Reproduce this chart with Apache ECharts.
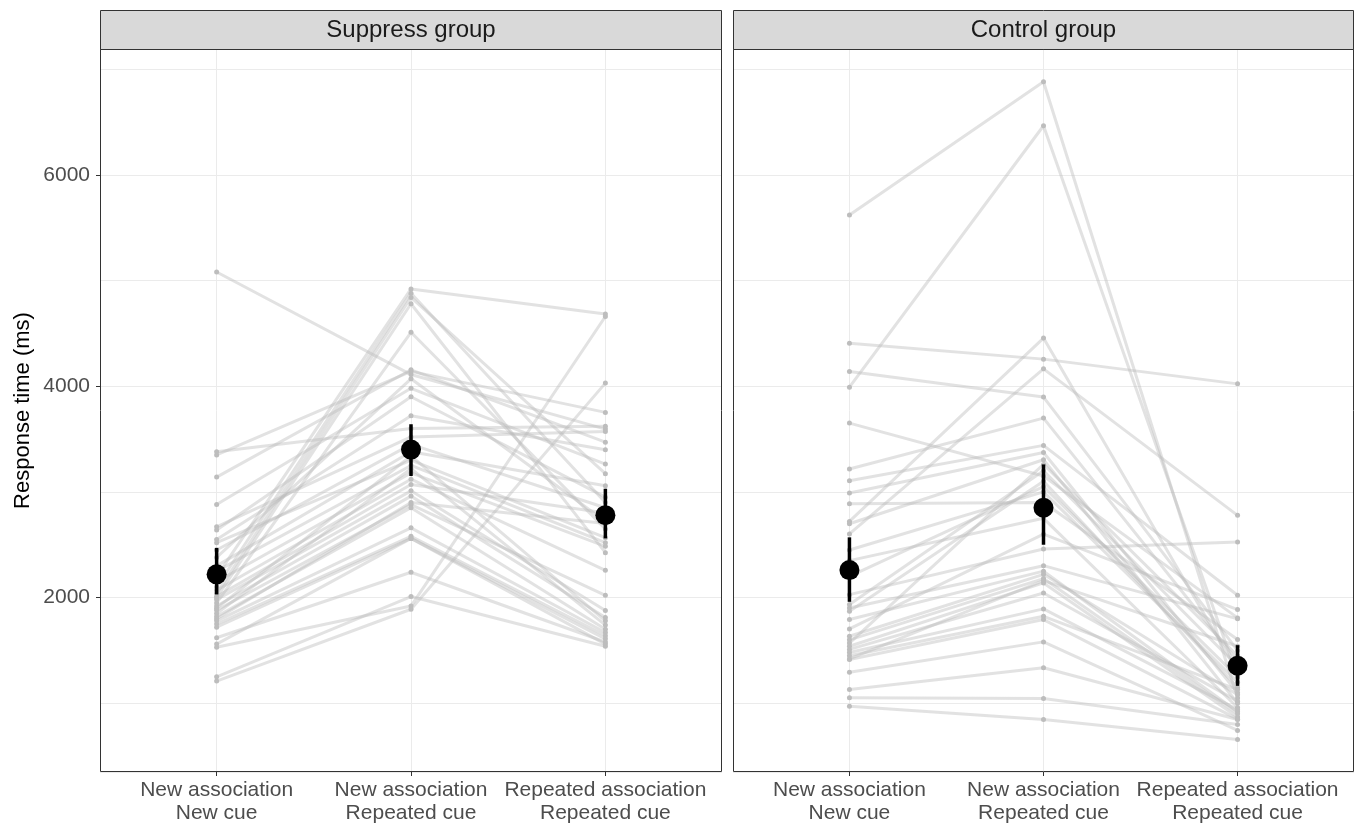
<!DOCTYPE html>
<html><head><meta charset="utf-8">
<script src="https://cdn.jsdelivr.net/npm/echarts@6/dist/echarts.min.js"></script>
<style>html,body{margin:0;padding:0;background:#fff}#c{width:1361px;height:825px}</style>
</head><body><div id="c"></div>
<script>
// ---- Data ----
const categories = ['New association\nNew cue', 'New association\nRepeated cue', 'Repeated association\nRepeated cue'];
const panelTitles = ['Suppress group', 'Control group'];
const yTickLabels = [2000, 4000, 6000];

// Suppress group: one entry per participant
const suppressNewNew = [5080,3380,3350,3140,2880,2670,2640,2550,2520,2450,2380,2300,2250,2200,2150,2100,2070,2040,2010,2000,1980,1950,1920,1900,1880,1850,1820,1800,1780,1750,1720,1620,1560,1530,1250,1210];
const suppressNewRep = [4110,3600,4140,4155,3980,3520,3900,3720,3300,3450,4070,3380,3250,4920,3180,4880,3120,4840,3070,4780,3010,4510,2960,3340,2880,3220,2850,2900,2660,2580,2560,2240,2560,1920,2010,1890];
const suppressRepRep = [3594,3620,3752,3470,3263,3572,2950,3399,2567,2850,2720,3059,2520,4684,2485,2900,2258,3172,2800,2425,1877,2650,1811,1780,2022,1740,1700,2700,1670,1640,1610,1580,1560,4659,1540,4029];

// Control group: one entry per participant
const controlNewNew = [5620,4407,4139,3991,3651,3216,3106,2989,2888,2721,2699,2602,2450,2350,2028,1934,1902,1871,1792,1704,1634,1600,1570,1540,1510,1480,1450,1414,1294,1130,1052,973,1420,2200];
const controlNewRep = [6880,4256,3897,6464,3150,3698,3440,3373,2900,4455,3304,4164,3000,2750,2460,3200,2302,3100,2250,2600,2220,2180,3260,2139,2044,1893,1823,1792,1581,1336,1045,847,2160,3050];
const controlRepRep = [1050,4022,1500,1250,1808,1400,2022,1100,1603,1300,1000,2778,1200,960,2526,1350,1799,1150,920,1887,1080,900,1450,870,1020,940,1130,850,743,847,800,658,1540,1250];

// Group means and interval bounds
const suppressMean = [2220, 3400, 2780];
const suppressLow  = [2030, 3150, 2560];
const suppressHigh = [2470, 3640, 3030];
const controlMean  = [2260, 2850, 1355];
const controlLow   = [1960, 2500, 1165];
const controlHigh  = [2570, 3260, 1550];

// ---- Build chart ----
const FONT = '"Liberation Sans", Arial, Helvetica, sans-serif';
const YMIN = 350, YMAX = 7190;
const grids = [
  {left: 100, top: 49, width: 622, height: 723},
  {left: 733, top: 49, width: 621, height: 723}
];
const groups = [
  {cols: [suppressNewNew, suppressNewRep, suppressRepRep], mean: suppressMean, low: suppressLow, high: suppressHigh},
  {cols: [controlNewNew, controlNewRep, controlRepRep], mean: controlMean, low: controlLow, high: controlHigh}
];

const xAxes = grids.map((g, i) => ({
  type: 'value', gridIndex: i, min: 0.4, max: 3.6, minInterval: 1, maxInterval: 1,
  axisLine: {show: false},
  axisTick: {show: true, length: 4, customValues: [1, 2, 3], lineStyle: {color: '#333333', width: 1}},
  axisLabel: {show: true, customValues: [1, 2, 3], margin: 7, fontSize: 21, lineHeight: 23,
    color: '#4D4D4D', fontFamily: FONT,
    formatter: v => categories[Math.round(v) - 1] || ''},
  splitLine: {show: true, lineStyle: {color: '#EBEBEB', width: 1}}
}));

const yAxes = [];
grids.forEach((g, i) => {
  yAxes.push({
    type: 'value', gridIndex: i, min: YMIN, max: YMAX, minInterval: 2000, maxInterval: 2000,
    axisLine: {show: false},
    axisTick: {show: i === 0, length: 4, customValues: yTickLabels, lineStyle: {color: '#333333', width: 1}},
    axisLabel: {show: i === 0, customValues: yTickLabels, margin: 10, fontSize: 21, color: '#4D4D4D', fontFamily: FONT,
      formatter: v => String(Math.round(v))},
    splitLine: {show: false},
    name: i === 0 ? 'Response time (ms)' : '',
    nameLocation: 'middle', nameGap: 66,
    nameTextStyle: {fontSize: 22, color: '#000000', fontFamily: FONT}
  });
});
grids.forEach((g, i) => {
  yAxes.push({
    type: 'value', gridIndex: i, min: YMIN, max: YMAX, minInterval: 1000, maxInterval: 1000,
    axisLine: {show: false}, axisTick: {show: false}, axisLabel: {show: false},
    splitLine: {show: true, lineStyle: {color: '#EBEBEB', width: 1}}
  });
});

const series = [];
groups.forEach((grp, p) => {
  const n = grp.cols[0].length;
  for (let s = 0; s < n; s++) {
    series.push({
      type: 'line', xAxisIndex: p, yAxisIndex: p, silent: true, showSymbol: false,
      data: grp.cols.map((col, k) => [k + 1, col[s]]),
      lineStyle: {color: 'rgba(185,185,185,0.42)', width: 3}, z: 2
    });
  }
  const pts = [];
  grp.cols.forEach((col, k) => col.forEach(v => pts.push([k + 1, v])));
  series.push({type: 'scatter', xAxisIndex: p, yAxisIndex: p, silent: true, data: pts,
    symbolSize: 5, itemStyle: {color: '#BDBDBD', opacity: 1}, z: 3});
  series.push({
    type: 'custom', xAxisIndex: p, yAxisIndex: p, silent: true, z: 4,
    data: grp.mean.map((m, k) => [k + 1, grp.low[k], grp.high[k]]),
    encode: {x: 0, y: [1, 2]},
    renderItem: (params, api) => {
      const a = api.coord([api.value(0), api.value(1)]);
      const b = api.coord([api.value(0), api.value(2)]);
      return {type: 'line', shape: {x1: a[0], y1: a[1], x2: b[0], y2: b[1]},
        style: {stroke: '#000000', lineWidth: 3.5}};
    }
  });
  series.push({type: 'scatter', xAxisIndex: p, yAxisIndex: p, silent: true,
    data: grp.mean.map((m, k) => [k + 1, m]), symbolSize: 20,
    itemStyle: {color: '#000000', opacity: 1}, z: 5});
});

const graphic = [];
grids.forEach((g, i) => {
  graphic.push({type: 'rect', z: 100, silent: true,
    shape: {x: g.left + 0.5, y: 10.5, width: g.width - 1, height: g.top - 10},
    style: {fill: '#D9D9D9', stroke: '#333333', lineWidth: 1}});
  graphic.push({type: 'text', z: 101, silent: true,
    x: g.left + g.width / 2, y: (10 + g.top) / 2 + 1,
    style: {text: panelTitles[i], font: '24px ' + FONT, fill: '#1A1A1A', align: 'center', verticalAlign: 'middle'}});
  graphic.push({type: 'rect', z: 100, silent: true,
    shape: {x: g.left + 0.5, y: g.top + 0.5, width: g.width - 1, height: g.height - 1},
    style: {fill: 'none', stroke: '#333333', lineWidth: 1}});
});

const chart = echarts.init(document.getElementById('c'), null, {renderer: 'canvas'});
chart.setOption({
  animation: false,
  backgroundColor: '#ffffff',
  grid: grids.map(g => Object.assign({containLabel: false, outerBoundsMode: 'none'}, g)),
  xAxis: xAxes,
  yAxis: yAxes,
  series: series,
  graphic: graphic
});
</script></body></html>
